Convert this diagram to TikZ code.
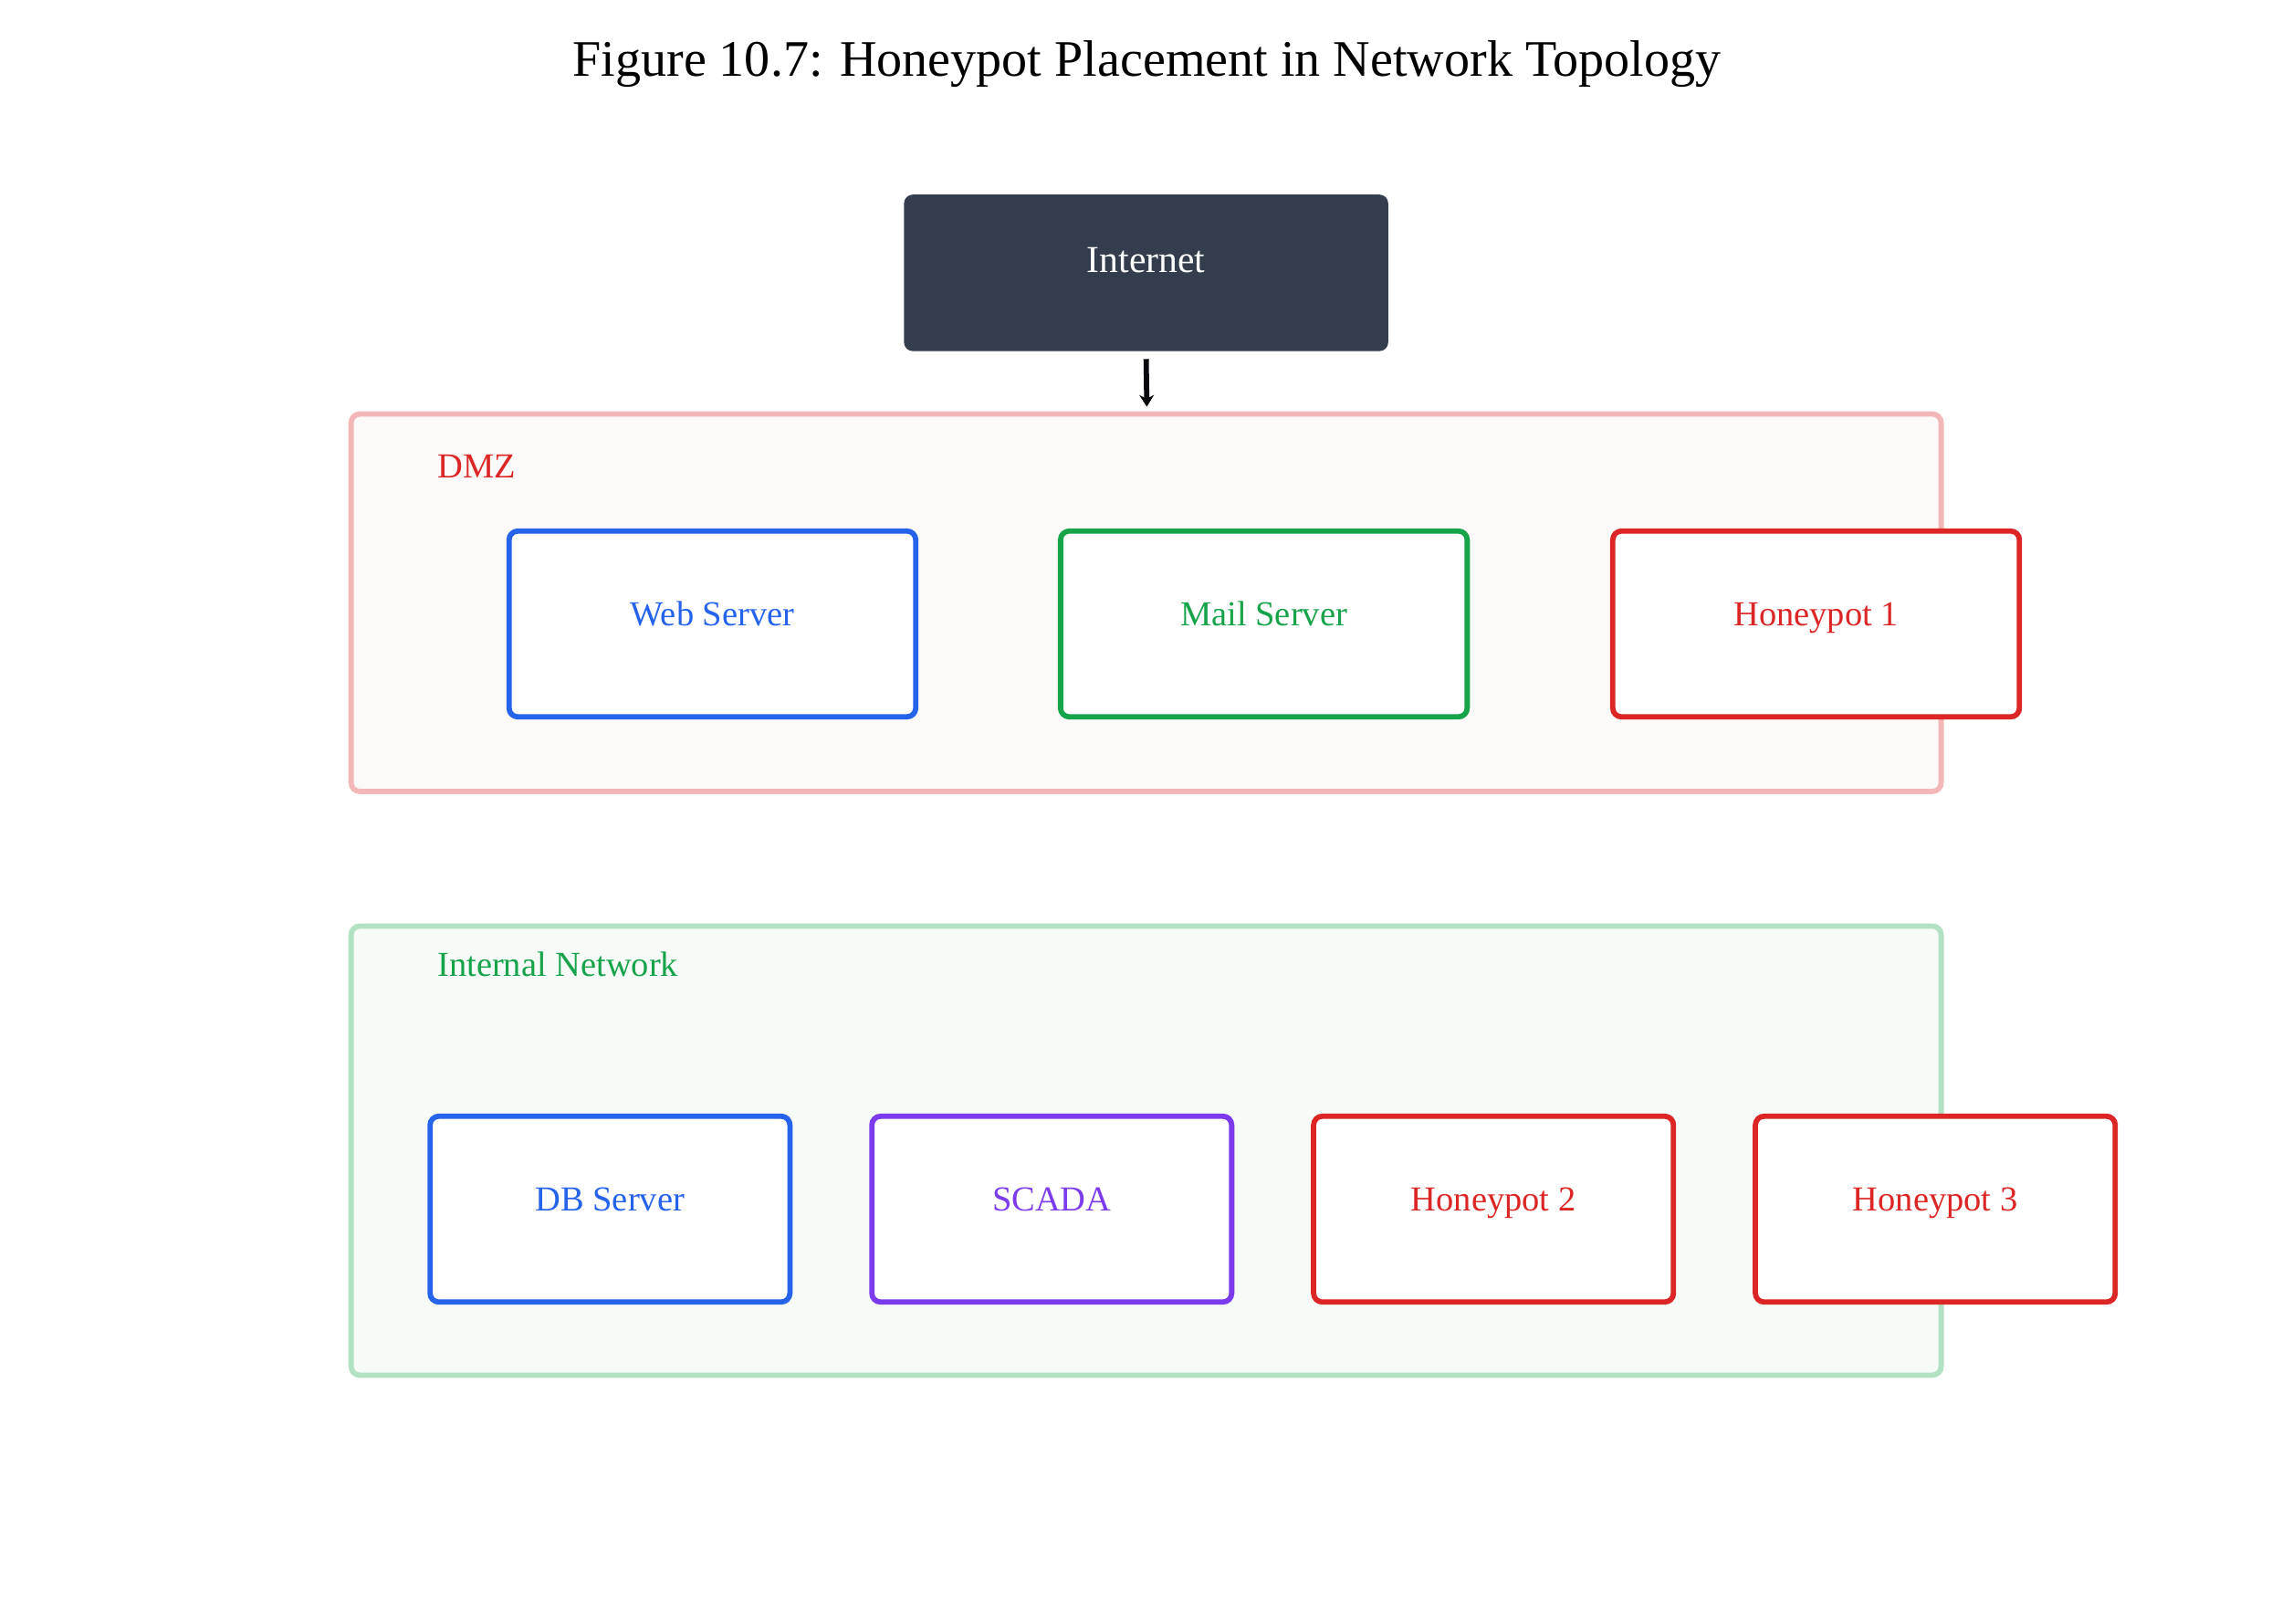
\documentclass[tikz,border=0pt]{standalone}
\usepackage{fontspec}
\setmainfont{Liberation Serif}
\usetikzlibrary{arrows.meta}
\definecolor{dark}{HTML}{343D4E}
\definecolor{cred}{HTML}{DC2626}
\definecolor{cblue}{HTML}{2563EB}
\definecolor{cgreen}{HTML}{16A34A}
\definecolor{cpurple}{HTML}{7C3AED}
\begin{document}
\begin{tikzpicture}[x=0.5pt,y=-0.5pt,
  box/.style={draw=#1,line width=1.8pt,rounded corners=3pt,fill=white,text=#1,font=\fontsize{12}{14}\selectfont,text height=1.6ex,text depth=1.3ex},
  zone/.style={line width=1.8pt,rounded corners=3pt},
  zlabel/.style={anchor=west,font=\fontsize{12}{14}\selectfont}]
\useasboundingbox (0,0) rectangle (1560,1110);
\node[font=\fontsize{17.5}{20}\selectfont] (title) at (784,44) {Figure 10.7: Honeypot Placement in Network Topology};
\node[fill=dark,rounded corners=3pt,minimum width=165.5pt,minimum height=53.5pt,text=white,font=\fontsize{13}{15}\selectfont,text height=1.6ex,text depth=1.6ex] (inet) at (783.5,186.5) {Internet};
\draw[zone,draw=cred!33,fill={rgb,255:red,252;green,250;blue,248}] (240,283) rectangle (1327,541);
\node[zlabel,text=cred] (dmz) at (292,319) {DMZ};
\coordinate (dmztop) at (784,278);
\draw[line width=1.8pt,black!85!dark,-{Stealth[length=4pt,width=5pt]}] (inet.south) ++(0,-2.5pt) coordinate (a) (a) -- (dmztop);
\draw[zone,draw=cgreen!33,fill={rgb,255:red,246;green,251;blue,247}] (240,633) rectangle (1327,940);
\node[zlabel,text=cgreen] (inl) at (292,659) {Internal Network};
\foreach \n/\x/\c/\t in {web/487/cblue/Web Server,mail/864/cgreen/Mail Server,hp1/1241.5/cred/Honeypot 1}
  \node[box=\c,minimum width=139pt,minimum height=63.5pt] (\n) at (\x,426.5) {\t};
\foreach \n/\x/\c/\t in {db/417/cblue/DB Server,scada/719/cpurple/SCADA,hp2/1021/cred/Honeypot 2,hp3/1323/cred/Honeypot 3}
  \node[box=\c,minimum width=123pt,minimum height=63.5pt] (\n) at (\x,826.5) {\t};
\end{tikzpicture}
\end{document}
